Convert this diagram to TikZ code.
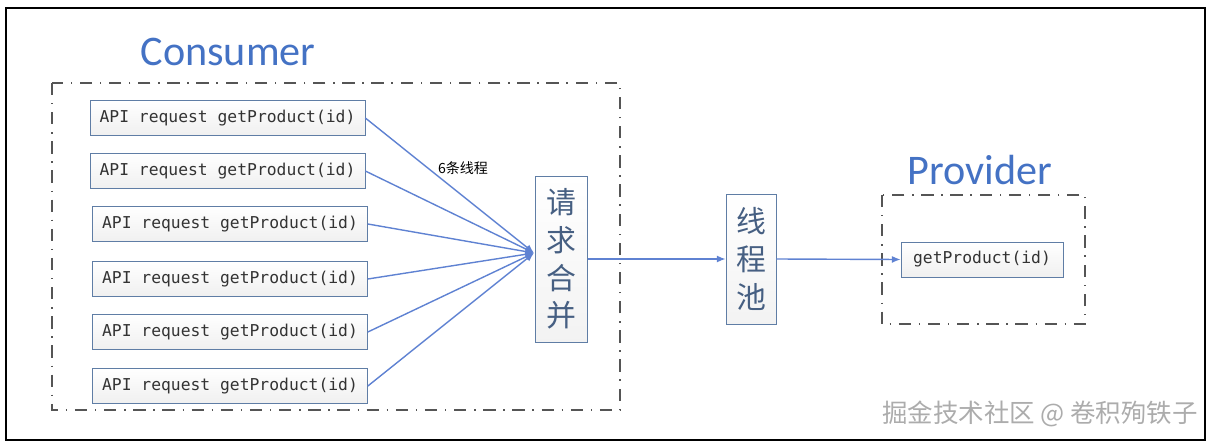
\documentclass[tikz,border=0pt]{standalone}
\usepackage{fontspec}
\setmainfont{Carlito}
\setmonofont{DejaVu Sans Mono}
\newfontfamily\cjk{Noto Sans CJK SC}
\usetikzlibrary{arrows.meta, positioning}

\definecolor{titleblue}{RGB}{68,114,196}
\definecolor{linkblue}{RGB}{95,130,210}
\definecolor{boxedge}{RGB}{95,125,165}
\definecolor{hanzi}{RGB}{70,95,130}
\definecolor{dashgray}{RGB}{85,85,85}

\begin{document}
\begin{tikzpicture}[x=0.02cm, y=-0.02cm, >={Latex[length=5pt, width=4pt]},
      grp/.style={draw=dashgray, line width=1.4pt,
                  dash pattern=on 7pt off 4.4pt on 0.8pt off 4.4pt},
      req/.style={draw=boxedge, top color=white, bottom color=gray!12,
                  minimum width=5.5cm, minimum height=0.7cm, inner sep=0pt,
                  font=\ttfamily\fontsize{9.3}{11}\selectfont, text=black!80},
      stage/.style={draw=boxedge, top color=white, bottom color=gray!10,
                  inner sep=0pt, align=center,
                  font=\cjk\fontsize{17}{21.5}\selectfont, text=hanzi},
      ttl/.style={font=\fontsize{24}{28}\selectfont, text=titleblue},
      link/.style={draw=linkblue, line width=0.8pt}]

    % Canvas and outer frame (pixel grid, y downwards)
    \useasboundingbox (0,0) rectangle (1211,446);
    \draw[line width=1.2pt] (6,8) rectangle (1205,440);

    % Titles
    \node[ttl] (cons) at (228,52)  {Consumer};
    \node[ttl] (prov) at (980,170) {Provider};

    % Dash-dot groups
    \draw[grp] (52,83) rectangle (620,410);
    \draw[grp] (882,195) rectangle (1085,324);

    % Incoming requests (left column)
    \node[req] (r1) at (227.5,118) {API request getProduct(id)};
    \node[req] (r2) at (227.5,171) {API request getProduct(id)};
    \node[req] (r3) at (230,224)   {API request getProduct(id)};
    \node[req] (r4) at (230,279)   {API request getProduct(id)};
    \node[req] (r5) at (230,332)   {API request getProduct(id)};
    \node[req] (r6) at (230,386)   {API request getProduct(id)};

    % Merge step, thread pool, provider call
    \node[stage, minimum width=1.04cm, minimum height=3.32cm] (merge) at (561.5,259) {请\\求\\合\\并};
    \node[stage, minimum width=1.0cm,  minimum height=2.6cm]  (pool)  at (751,259)   {线\\程\\池};
    \node[req, minimum width=3.24cm] (get) at (982,259.5) {getProduct(id)};

    % All six threads meet here
    \coordinate (join) at (534,253);
    \draw[link, ->] (r1.east) -- (join);
    \draw[link, ->] (r2.east) -- (join);
    \draw[link, ->] (r3.east) -- (join);
    \draw[link, ->] (r4.east) -- (join);
    \draw[link, ->] (r5.east) -- (join);
    \draw[link, ->] (r6.east) -- (join);
    \node[font=\cjk\fontsize{8}{9.6}\selectfont] (nthr) at (463,168) {6条线程};

    \draw[link, ->] (merge.east) -- (pool.west);
    \draw[link, ->] (pool.east) -- (get.west);

    % Watermark
    \node[font=\cjk\fontsize{14.5}{16}\selectfont, text=gray!65] (mark) at (1040,414) {掘金技术社区 @ 卷积殉铁子};

\end{tikzpicture}
\end{document}
